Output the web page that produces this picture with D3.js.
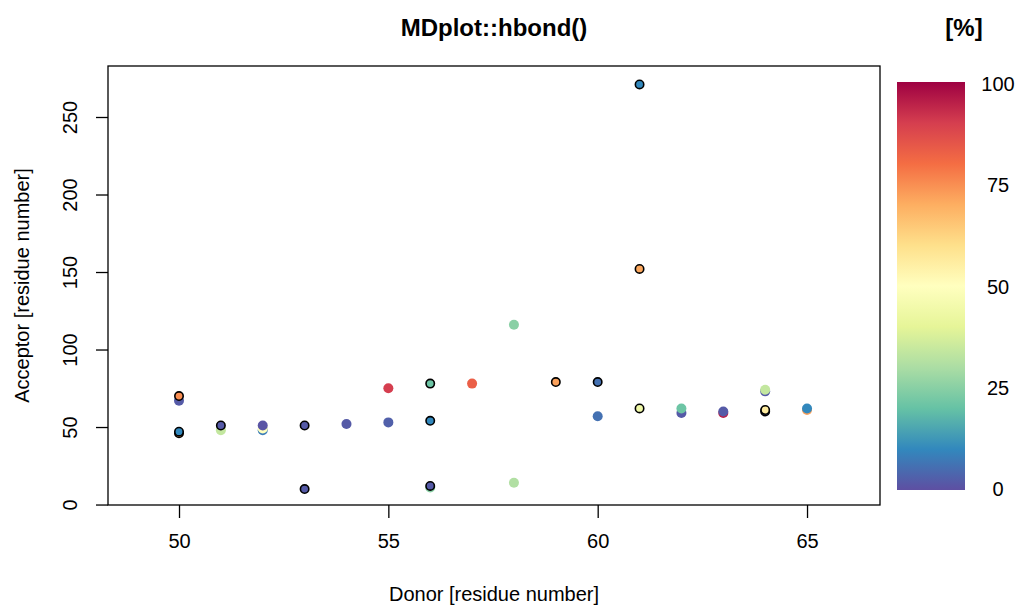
<!DOCTYPE html>
<html>
<head>
<meta charset="utf-8">
<script src="https://cdn.jsdelivr.net/npm/d3@7"></script>
<style>
  body { margin: 0; background: #fff; }
  text { font-family: "Liberation Sans", Arial, sans-serif; fill: #000; }
</style>
</head>
<body>
<div id="chart"></div>
<script>
// hbond data: donor residue, acceptor residue, occurrence [%], drawn with border
let donors    = [50, 50, 50, 50, 51, 51, 52, 52, 52, 53, 53, 54, 55, 55, 56, 56, 56, 56, 57, 58, 58, 59, 60, 60, 61, 61, 61, 62, 62, 63, 63, 64, 64, 64, 64, 65, 65];
let acceptors = [67, 70, 46, 47, 48, 51, 48, 49, 51, 51, 10, 52, 53, 75, 11, 78, 54, 12, 78, 116, 14, 79, 79, 57, 271, 152, 62, 59, 62, 59, 60, 73, 74, 60, 61, 61, 62];
let percents  = [2, 75, 72, 10, 34, 2, 8, 50, 1, 2, 2, 2, 3, 90, 25, 21, 10, 2, 83, 25, 31, 72, 6, 6, 10, 71, 44, 2, 21, 95, 2, 2, 34, 3, 56, 72, 10];
let bordered  = [0, 1, 1, 1, 0, 1, 0, 0, 0, 1, 1, 0, 0, 0, 0, 1, 1, 1, 0, 0, 0, 1, 1, 0, 1, 1, 1, 0, 0, 0, 0, 0, 0, 1, 1, 0, 0];

let xTicks = [50, 55, 60, 65];
let yTicks = [0, 50, 100, 150, 200, 250];
let legendTicks = [0, 25, 50, 75, 100];
let spectral = ["#5e4fa2", "#3288bd", "#66c2a5", "#abdda4", "#e6f598", "#ffffbf",
                "#fee08b", "#fdae61", "#f46d43", "#d53e4f", "#9e0142"];

let width = 1018, height = 605;
let mLeft = 108, mRight = 880, mTop = 66, mBottom = 505;

let svg = d3.select("#chart").append("svg")
    .attr("width", width)
    .attr("height", height);

let x = d3.scaleLinear().domain([48.304, 66.743]).range([mLeft, mRight]);
let y = d3.scaleLinear().domain([-0.3, 282.9]).range([mBottom, mTop]);
let color = d3.scaleLinear()
    .domain(spectral.map((c, i) => i * 10))
    .range(spectral);

let points = donors.map(function(d, i) {
    return { donor: d, acceptor: acceptors[i], pct: percents[i], border: bordered[i] };
});

// points
svg.append("g").selectAll("circle")
    .data(points)
    .enter().append("circle")
    .attr("cx", d => x(d.donor))
    .attr("cy", d => y(d.acceptor))
    .attr("r", d => d.border ? 4.2 : 5)
    .attr("fill", d => color(d.pct))
    .attr("stroke", d => d.border ? "#000" : "none")
    .attr("stroke-width", 1.6);

// box
svg.append("rect")
    .attr("x", mLeft).attr("y", mTop)
    .attr("width", mRight - mLeft).attr("height", mBottom - mTop)
    .attr("fill", "none").attr("stroke", "#000").attr("stroke-width", 1.3);

// x axis
let xAxis = d3.axisBottom(x).tickValues(xTicks).tickSize(13).tickPadding(16);
let gx = svg.append("g").attr("transform", "translate(0," + mBottom + ")").call(xAxis);
gx.attr("font-family", null).attr("font-size", null);
gx.select(".domain").remove();
gx.selectAll("text").style("font-size", "20px");
gx.selectAll("line").attr("stroke-width", 1.3);

// y axis, labels rotated like R's default
let yAxis = d3.axisLeft(y).tickValues(yTicks).tickSize(12);
let gy = svg.append("g").attr("transform", "translate(" + mLeft + ",0)").call(yAxis);
gy.attr("font-family", null).attr("font-size", null);
gy.select(".domain").remove();
gy.selectAll("line").attr("stroke-width", 1.3);
gy.selectAll(".tick text")
    .style("font-size", "20px")
    .attr("text-anchor", "middle")
    .attr("transform", "rotate(-90)")
    .attr("x", 0)
    .attr("y", -38)
    .attr("dy", "0.35em");

// titles
svg.append("text")
    .attr("x", (mLeft + mRight) / 2).attr("y", 36)
    .attr("text-anchor", "middle")
    .style("font-size", "24px").style("font-weight", "bold")
    .text("MDplot::hbond()");

svg.append("text")
    .attr("x", (mLeft + mRight) / 2).attr("y", 601)
    .attr("text-anchor", "middle")
    .style("font-size", "20px")
    .text("Donor [residue number]");

svg.append("text")
    .attr("transform", "translate(29," + ((mTop + mBottom) / 2) + ") rotate(-90)")
    .attr("text-anchor", "middle")
    .style("font-size", "20px")
    .text("Acceptor [residue number]");

// colour legend
let barX = 897, barW = 68, barTop = 82, barBottom = 490;
let defs = svg.append("defs");
let grad = defs.append("linearGradient")
    .attr("id", "spectral")
    .attr("x1", 0).attr("y1", 1).attr("x2", 0).attr("y2", 0);
spectral.forEach(function(c, i) {
    grad.append("stop").attr("offset", i / 10).attr("stop-color", c);
});
svg.append("rect")
    .attr("x", barX).attr("y", barTop)
    .attr("width", barW).attr("height", barBottom - barTop)
    .attr("fill", "url(#spectral)");

let legendScale = d3.scaleLinear().domain([0, 100]).range([489, 84]);
svg.append("g").selectAll("text")
    .data(legendTicks)
    .enter().append("text")
    .attr("x", 998)
    .attr("y", d => legendScale(d))
    .attr("dy", "0.35em")
    .attr("text-anchor", "middle")
    .style("font-size", "20px")
    .text(d => d);

svg.append("text")
    .attr("x", 964).attr("y", 36)
    .attr("text-anchor", "middle")
    .style("font-size", "24px").style("font-weight", "bold")
    .text("[%]");
</script>
</body>
</html>
